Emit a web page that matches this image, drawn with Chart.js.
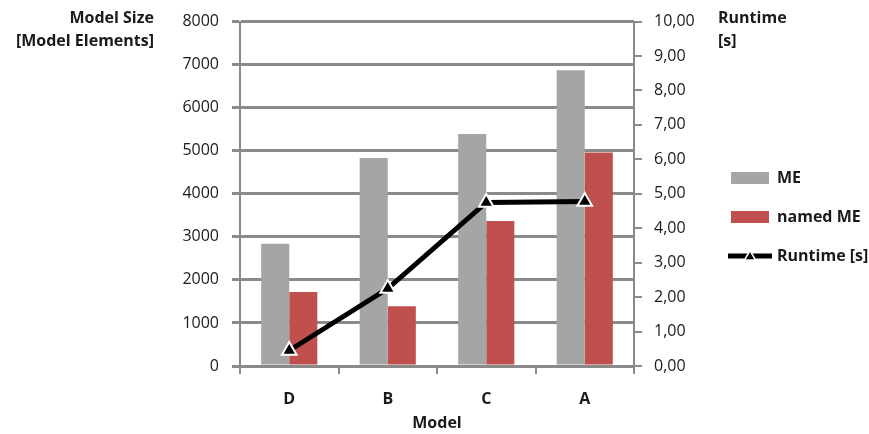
<!DOCTYPE html>
<html><head><meta charset="utf-8">
<script src="https://cdn.jsdelivr.net/npm/chart.js@4.4.1/dist/chart.umd.min.js"></script>
<style>html,body{margin:0;padding:0;background:#fff;}#wrap{width:869px;height:434px;}</style>
</head><body><div id="wrap"><canvas id="c" width="869" height="434"></canvas></div>
<script>
// ---- data ----
const categories = ['D', 'B', 'C', 'A'];
const meValues = [2840, 4830, 5390, 6870];
const namedMeValues = [1720, 1390, 3370, 4960];
const runtimeValues = [0.45, 2.25, 4.75, 4.78];
const seriesNames = ['ME', 'named ME', 'Runtime [s]'];
const leftAxisTitle = ['Model Size', '[Model Elements]'];
const rightAxisTitle = ['Runtime', '[s]'];
const xAxisTitle = 'Model';
const leftAxisMax = 8000, leftAxisStep = 1000;
const rightAxisMax = 10, rightAxisStep = 1;

// ---- style ----
const FONT = '"Open Sans"';
const gridColor = '#8a8a8a';
const textColor = '#1a1a1a';
const greyBar = '#A5A5A5';
const redBar = '#C0504D';

function makeLineIcon() {
  const c = document.createElement('canvas');
  c.width = 44; c.height = 16;
  const g = c.getContext('2d');
  g.strokeStyle = '#000'; g.lineWidth = 5;
  g.beginPath(); g.moveTo(0, 8); g.lineTo(44, 8); g.stroke();
  g.beginPath(); g.moveTo(22, 2.5); g.lineTo(27.5, 12); g.lineTo(16.5, 12); g.closePath();
  g.fillStyle = '#000'; g.fill();
  g.strokeStyle = '#fff'; g.lineWidth = 1.5; g.stroke();
  return c;
}
const lineIcon = makeLineIcon();

// legend geometry
const legendFontSize = 16, legendPad = 23, legendBoxW = 38;
const legendWidth = 161; // legend box spans from x=708 to the right edge

const axisTitles = {
  id: 'axisTitles',
  afterDraw(chart) {
    const ctx = chart.ctx;
    ctx.save();
    ctx.font = 'bold 16px ' + FONT;
    ctx.fillStyle = textColor;
    ctx.textBaseline = 'middle';
    ctx.textAlign = 'right';
    ctx.fillText(leftAxisTitle[0], 154, 18);
    ctx.fillText(leftAxisTitle[1], 154, 41);
    ctx.textAlign = 'left';
    ctx.fillText(rightAxisTitle[0], 718, 18);
    ctx.fillText(rightAxisTitle[1], 718, 41);
    ctx.restore();
  }
};

new Chart(document.getElementById('c'), {
  type: 'bar',
  data: {
    labels: categories,
    datasets: [
      { type: 'bar', label: seriesNames[0], data: meValues, backgroundColor: greyBar, borderWidth: 0, yAxisID: 'y', order: 2,
        categoryPercentage: 0.57, barPercentage: 1.0 },
      { type: 'bar', label: seriesNames[1], data: namedMeValues, backgroundColor: redBar, borderWidth: 0, yAxisID: 'y', order: 2,
        categoryPercentage: 0.57, barPercentage: 1.0 },
      { type: 'line', label: seriesNames[2], data: runtimeValues, yAxisID: 'y2', order: 1,
        borderColor: '#000', borderWidth: 5, backgroundColor: '#000',
        pointStyle: 'triangle', pointRadius: 8.5, pointBackgroundColor: '#000', pointBorderColor: '#fff', pointBorderWidth: 2,
        tension: 0 }
    ]
  },
  options: {
    responsive: false,
    animation: false,
    devicePixelRatio: 1,
    layout: { padding: { left: 0, top: 0, right: 0, bottom: 0 } },
    plugins: {
      tooltip: { enabled: false },
      legend: {
        position: 'right',
        align: 'center',
        maxWidth: legendWidth,
        labels: {
          usePointStyle: true,
          pointStyleWidth: legendBoxW,
          boxHeight: 12,
          padding: legendPad,
          color: textColor,
          font: { family: FONT, size: legendFontSize, weight: 'bold' },
          sort: (a, b) => a.datasetIndex - b.datasetIndex,
          generateLabels(chart) {
            const items = Chart.defaults.plugins.legend.labels.generateLabels(chart);
            items.forEach(it => {
              if (it.datasetIndex === 2) { it.pointStyle = lineIcon; it.lineWidth = 0; }
              else { it.pointStyle = 'rect'; it.lineWidth = 0; }
            });
            return items;
          }
        }
      }
    },
    scales: {
      x: {
        offset: true,
        grid: { display: true, offset: true, drawOnChartArea: false, drawTicks: true, tickLength: 8, color: gridColor, lineWidth: 2 },
        border: { display: true, color: gridColor, width: 2 },
        ticks: { padding: 16, color: textColor, font: { family: FONT, size: 16, weight: 'bold' } },
        title: { display: true, text: xAxisTitle, color: textColor, font: { family: FONT, size: 16, weight: 'bold' }, padding: { top: 0, bottom: 1 } },
        afterFit(scale) { scale.height = 68; }
      },
      y: {
        position: 'left',
        min: 0, max: leftAxisMax,
        ticks: { stepSize: leftAxisStep, padding: 13, color: textColor, font: { family: FONT, size: 16 },
          callback: v => String(v) },
        grid: { display: true, drawOnChartArea: true, drawTicks: true, color: gridColor, lineWidth: 3, tickLength: 8 },
        border: { display: true, color: gridColor, width: 2 },
        afterFit(scale) { scale.width = 240; scale.paddingTop = 20; }
      },
      y2: {
        position: 'right',
        min: 0, max: rightAxisMax,
        ticks: { stepSize: rightAxisStep, padding: 12, color: textColor, font: { family: FONT, size: 16 },
          callback: v => Number(v).toFixed(2).replace('.', ',') },
        grid: { display: true, drawOnChartArea: false, color: gridColor, lineWidth: 2, tickLength: 8 },
        border: { display: true, color: gridColor, width: 2 },
        afterFit(scale) { scale.width = 74; }
      }
    }
  },
  plugins: [axisTitles]
});
</script></body></html>
